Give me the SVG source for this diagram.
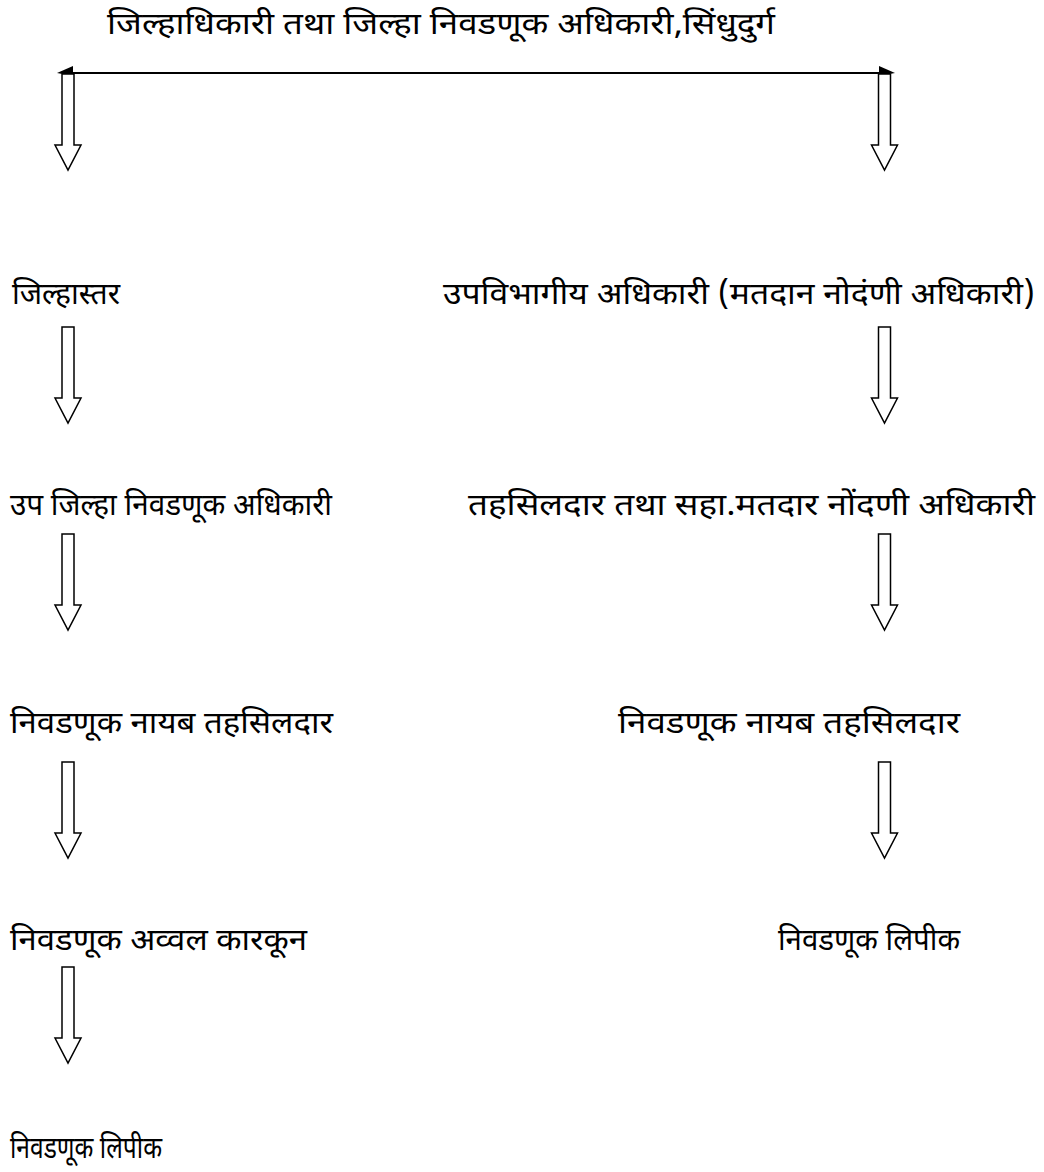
<svg xmlns="http://www.w3.org/2000/svg" xmlns:xlink="http://www.w3.org/1999/xlink" width="1044" height="1172" viewBox="0 0 1044 1172">
<style>
text{font-family:"Noto Sans Devanagari","Noto Sans","Lohit Devanagari",sans-serif;font-size:30px;font-weight:400;fill:#000}
.blk{fill:#fff;stroke:#000;stroke-width:1.5;stroke-linejoin:miter}
.ln{stroke:#000;stroke-width:2;fill:none}
.head{fill:#000}
</style>
<defs>
<path id="barrow" class="blk" d="M -6 0 H 6 V 71 H 13 L 0 96 L -13 71 H -6 Z"/>
</defs>
<rect width="1044" height="1172" fill="#fff"/>
<g id="connectors">
<line class="ln" x1="62" y1="73" x2="890" y2="73"/>
<polygon class="head" points="57,73 73,66 73,76"/>
<polygon class="head" points="895,73 879,66 879,76"/>
<use xlink:href="#barrow" transform="translate(68,74)"/>
<use xlink:href="#barrow" transform="translate(884.5,74)"/>
<use xlink:href="#barrow" transform="translate(68,327)"/>
<use xlink:href="#barrow" transform="translate(884.5,327)"/>
<use xlink:href="#barrow" transform="translate(68,534)"/>
<use xlink:href="#barrow" transform="translate(884.5,534)"/>
<use xlink:href="#barrow" transform="translate(68,762)"/>
<use xlink:href="#barrow" transform="translate(884.5,762)"/>
<use xlink:href="#barrow" transform="translate(68,967)"/>
</g>
<g id="n-title"><text x="107" y="34" textLength="668" lengthAdjust="spacingAndGlyphs">जिल्हाधिकारी तथा जिल्हा निवडणूक अधिकारी,सिंधुदुर्ग</text></g>
<g id="n-l2"><text x="12" y="304" textLength="108" lengthAdjust="spacingAndGlyphs">जिल्हास्तर</text></g>
<g id="n-r2"><text x="443" y="304" textLength="592" lengthAdjust="spacingAndGlyphs">उपविभागीय अधिकारी (मतदान नोदंणी अधिकारी)</text></g>
<g id="n-l3"><text x="10" y="515" textLength="322" lengthAdjust="spacingAndGlyphs">उप जिल्हा निवडणूक अधिकारी</text></g>
<g id="n-r3"><text x="468" y="515" textLength="567" lengthAdjust="spacingAndGlyphs">तहसिलदार तथा सहा.मतदार नोंदणी अधिकारी</text></g>
<g id="n-l4"><text x="10" y="733" textLength="323" lengthAdjust="spacingAndGlyphs">निवडणूक नायब तहसिलदार</text></g>
<g id="n-r4"><text x="618" y="733" textLength="342" lengthAdjust="spacingAndGlyphs">निवडणूक नायब तहसिलदार</text></g>
<g id="n-l5"><text x="10" y="950" textLength="297" lengthAdjust="spacingAndGlyphs">निवडणूक अव्वल कारकून</text></g>
<g id="n-r5"><text x="778" y="950" textLength="182" lengthAdjust="spacingAndGlyphs">निवडणूक लिपीक</text></g>
<g id="n-l6"><text x="10" y="1158" textLength="152" lengthAdjust="spacingAndGlyphs">निवडणूक लिपीक</text></g>
</svg>
